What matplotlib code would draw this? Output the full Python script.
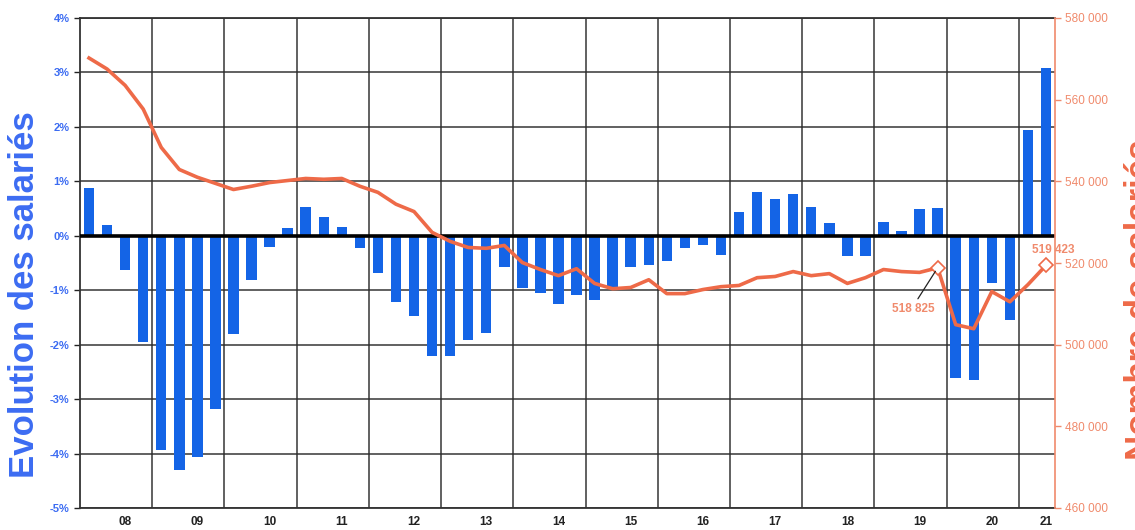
import matplotlib
matplotlib.use("Agg")
import matplotlib.pyplot as plt
import numpy as np

plt.rcParams['font.family'] = ['Liberation Sans', 'DejaVu Sans']

years = ['08', '09', '10', '11', '12', '13', '14', '15', '16', '17', '18', '19', '20', '21']

evolution = [
    0.88, 0.20, -0.63, -1.95,
    -3.93, -4.31, -4.07, -3.19,
    -1.81, -0.81, -0.20, 0.15,
    0.52, 0.35, 0.17, -0.22,
    -0.68, -1.22, -1.47, -2.20,
    -2.20, -1.92, -1.78, -0.57,
    -0.96, -1.05, -1.26, -1.09,
    -1.18, -0.94, -0.57, -0.53,
    -0.47, -0.22, -0.17, -0.35,
    0.44, 0.81, 0.68, 0.77,
    0.53, 0.24, -0.37, -0.37,
    0.26, 0.09, 0.49, 0.51,
    -2.62, -2.64, -0.87, -1.55,
    1.95, 3.08,
]

salaries = [
    570200, 567500, 563500, 557700,
    548300, 542900, 541000, 539500,
    538000, 538800, 539700, 540200,
    540700, 540500, 540700, 538800,
    537300, 534400, 532600, 527500,
    525300, 523800, 523600, 524300,
    520100, 518400, 516900, 518600,
    515000, 513700, 514000, 515900,
    512500, 512500, 513500, 514200,
    514500, 516400, 516700, 517900,
    516900, 517400, 515000, 516400,
    518400, 517900, 517700, 518825,
    504900, 503900, 513000, 510500,
    514700, 519423,
]

left_ticks = [-5, -4, -3, -2, -1, 0, 1, 2, 3, 4]
right_ticks = [460000, 480000, 500000, 520000, 540000, 560000, 580000]

BLUE = '#1464E6'
BLUE_TXT = '#3C6CF2'
ORANGE = '#EE6A48'
ORANGE_TXT = '#F08A6C'

fig = plt.figure(figsize=(11.35, 5.30), dpi=100)
ax = fig.add_axes([80/1135, 22/530, 975/1135, 490/530])
ax2 = ax.twinx()

n = len(evolution)
x = np.arange(n)

ax.bar(x, evolution, width=0.58, color=BLUE, zorder=2)
ax.axhline(0, color='black', lw=2.6, zorder=3)

ax.set_xlim(-0.5, n - 0.5)
ax.set_ylim(-5, 4)
ax.set_yticks(left_ticks)
ax.set_yticklabels([f'{t}%' for t in left_ticks])
ax.tick_params(axis='y', colors='#222222', labelcolor=BLUE_TXT, labelsize=8, length=4, width=1)
for lab in ax.get_yticklabels():
    lab.set_fontweight('bold')

major_x = [4 * k + 2 for k in range(len(years) - 1)] + [n - 1]
ax.set_xticks(major_x)
ax.set_xticklabels(years, fontsize=8.5, fontweight='bold', color='#222222')
ax.set_xticks([4 * k - 0.5 for k in range(1, len(years))], minor=True)
ax.tick_params(axis='x', which='both', length=0, pad=6)

ax.grid(axis='y', which='major', color='#2a2a2a', lw=1.3, alpha=0.8, zorder=0)
ax.grid(axis='x', which='minor', color='#2a2a2a', lw=1.3, alpha=0.8, zorder=0)
ax.grid(axis='x', which='major', visible=False)
ax.set_axisbelow(True)

for s in ['left', 'bottom', 'top']:
    ax.spines[s].set_color('#333333')
    ax.spines[s].set_linewidth(1.3)
ax.spines['right'].set_visible(False)

ax2.plot(x, salaries, color=ORANGE, lw=2.6, zorder=4, solid_joinstyle='round')
ax2.set_ylim(460000, 580000)
ax2.set_yticks(right_ticks)
ax2.set_yticklabels([f'{t:,}'.replace(',', ' ') for t in right_ticks])
ax2.tick_params(axis='y', colors=ORANGE_TXT, labelsize=8.5, length=4, width=1)
for s in ['left', 'bottom', 'top']:
    ax2.spines[s].set_visible(False)
ax2.spines['right'].set_color(ORANGE_TXT)
ax2.spines['right'].set_linewidth(1.2)

# highlighted points
i1 = 47
i2 = n - 1
ax2.plot([i1, i2], [salaries[i1], salaries[i2]], linestyle='none', marker='D', markersize=7,
         markerfacecolor='white', markeredgecolor=ORANGE, markeredgewidth=1.2, zorder=5, clip_on=False)
ax2.annotate(f'{salaries[i1]:,}'.replace(',', ' '), xy=(i1, salaries[i1]), xytext=(i1 - 1.35, 508800),
             ha='center', va='center', color=ORANGE_TXT, fontsize=8.5, fontweight='bold',
             arrowprops=dict(arrowstyle='-', color='#222222', lw=0.9, shrinkA=1, shrinkB=3,
                             relpos=(0.55, 1.0)), zorder=6)
ax2.text(i2 + 0.4, 523300, f'{salaries[i2]:,}'.replace(',', ' '), ha='center', va='center',
         color=ORANGE_TXT, fontsize=8.5, fontweight='bold', zorder=6)

fig.text(8/1135, 1 - 295/530, 'Evolution des salariés', rotation=90, ha='left', va='center',
         color=BLUE_TXT, fontsize=25, fontweight='bold')
fig.text(1124/1135, 1 - 300/530, 'Nombre de salariés', rotation=90, ha='left', va='center',
         color=ORANGE, fontsize=25, fontweight='bold')

fig.savefig('out.png', dpi=100)
